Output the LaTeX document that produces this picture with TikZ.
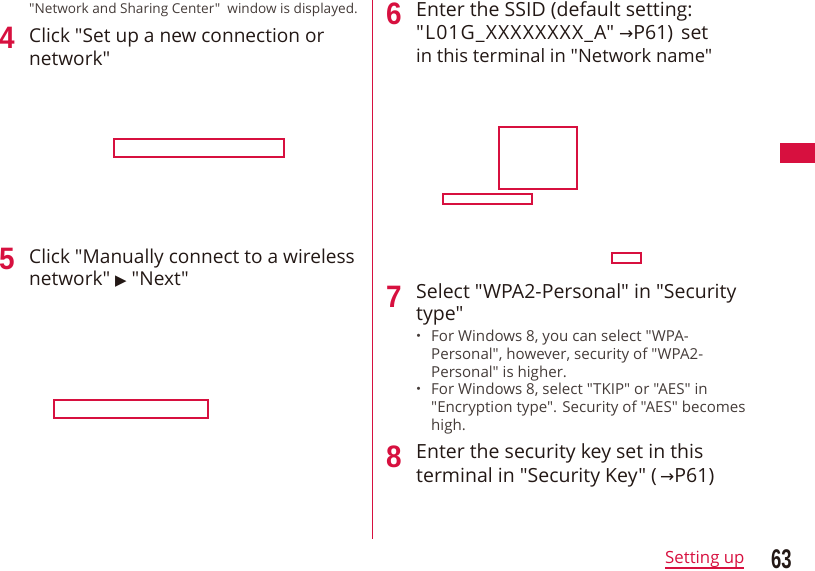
\documentclass[tikz,border=0pt]{standalone}
\usepackage{fontspec}
\newfontfamily\bodyfont{Open Sans}
\newfontfamily\widefont[LetterSpace=5.5]{Open Sans}
\newfontfamily\numfont{Liberation Sans}
\newfontfamily\symfont{DejaVu Sans}
\newfontfamily\cjkfont{Noto Sans CJK JP}
\usetikzlibrary{positioning}
\definecolor{pagered}{HTML}{D7103F}
\definecolor{pageink}{HTML}{231815}
\newcommand{\toarrow}{{\symfont\fontsize{17}{17}\selectfont →}}
\tikzset{
    headline/.style={anchor=base west, inner sep=0pt, text=pageink, font=\bodyfont\fontsize{19.1}{19}\selectfont},
    rightline/.style={headline, font=\bodyfont\fontsize{19.5}{19}\selectfont},
    noteline/.style={anchor=base west, inner sep=0pt, text=pageink!85, font=\bodyfont\fontsize{15.1}{15}\selectfont},
    stepnum/.style={anchor=base west, inner sep=0pt, text=pagered, xscale=.9, transform shape, font=\numfont\fontsize{31}{31}\selectfont\bfseries},
    callout/.style={draw=pagered, line width=1.2pt},
}
\begin{document}
\begin{tikzpicture}[x=1pt, y=-1pt]
            \useasboundingbox (0,0) rectangle (815,571) ;
            \draw[pagered, line width=.8pt] (372.5,0) -- (372.5,539) ;
            \fill[pagered] (780,143) rectangle (815,163) ;

            % left column
            \node[noteline, font=\bodyfont\fontsize{13.6}{15}\selectfont] (intro) at (29,13) {"Network and Sharing Center"\ \ window is displayed.} ;
            \node[stepnum] (four) at (-1,48) {4} ;
            \node[headline] (fourA) at (29,42) {Click "Set up a new connection or} ;
            \node[headline] (fourB) at (29,65) {network"} ;
            \draw[callout] (114,139) rectangle (284,157) ;

            \node[stepnum] (five) at (-1,269) {5} ;
            \node[headline] (fiveA) at (29,263) {Click "Manually connect to a wireless} ;
            \node[headline] (fiveB) at (29,285) {network" {\symfont\fontsize{15}{15}\selectfont ▶} "Next"} ;
            \draw[callout] (54,400) rectangle (208,418) ;

            % right column
            \node[stepnum] (six) at (386,24) {6} ;
            \node[rightline] (sixA) at (416,16) {Enter the SSID (default setting:} ;
            \node[rightline] (sixB) at (416,39) {{\widefont\fontsize{19.5}{19}\selectfont "L01G\_XXXXXXXX\_A"} \toarrow P61)\hspace{8pt}set} ;
            \node[rightline, font=\bodyfont\fontsize{18.4}{19}\selectfont] (sixC) at (416,62) {in this terminal in "Network name"} ;
            \draw[callout] (499,127) rectangle (577,189) ;
            \draw[callout] (443,194) rectangle (532,204) ;
            \draw[callout] (612,253) rectangle (641,263) ;

            \node[stepnum] (seven) at (386,307) {7} ;
            \node[rightline] (sevenA) at (416,298) {Select "WPA2-Personal" in "Security} ;
            \node[rightline] (sevenB) at (416,320) {type"} ;
            \node[noteline, font=\cjkfont\fontsize{15}{15}\selectfont] (bulletA) at (411,341) {・} ;
            \node[noteline] (noteA) at (431,341) {For Windows 8, you can select "WPA-} ;
            \node[noteline] (noteB) at (431,359) {Personal", however, security of "WPA2-} ;
            \node[noteline] (noteC) at (431,377) {Personal" is higher.} ;
            \node[noteline, font=\cjkfont\fontsize{15}{15}\selectfont] (bulletB) at (411,394) {・} ;
            \node[noteline] (noteD) at (431,394) {For Windows 8, select "TKIP" or "AES" in} ;
            \node[noteline] (noteE) at (431,412) {"Encryption type". Security of "AES" becomes} ;
            \node[noteline] (noteF) at (431,430) {high.} ;

            \node[stepnum] (eight) at (386,467) {8} ;
            \node[rightline] (eightA) at (416,458) {Enter the security key set in this} ;
            \node[rightline] (eightB) at (416,482) {terminal in "Security Key" (\,\toarrow P61)} ;

            % footer
            \node[headline, text=pagered, font=\bodyfont\fontsize{16.8}{16}\selectfont] (section) at (665,563) {Setting up} ;
            \draw[pagered, line width=2pt] (665,568) -- (744,568) ;
            \node[stepnum, text=pageink, xscale=.76, font=\numfont\fontsize{27}{27}\selectfont\bfseries] (page) at (771,568.5) {63} ;
        \end{tikzpicture}
\end{document}
